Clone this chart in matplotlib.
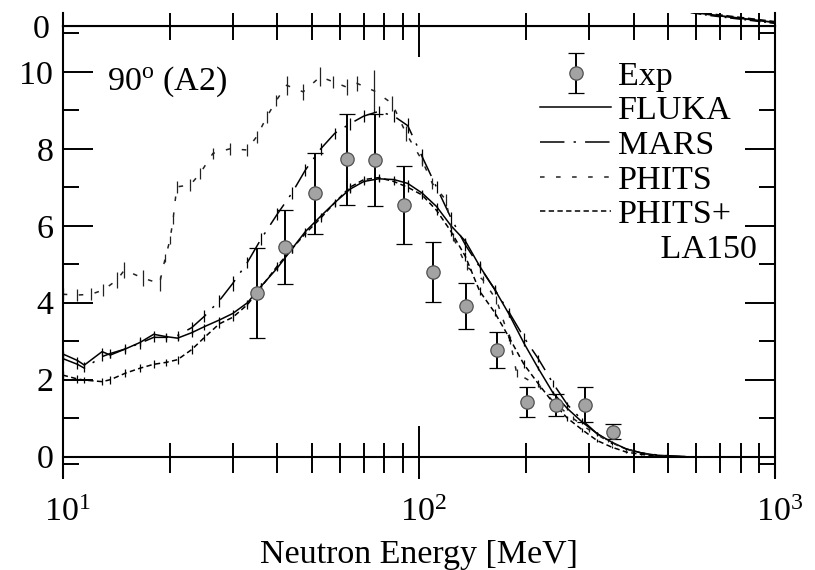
import matplotlib
matplotlib.use("Agg")
import matplotlib.pyplot as plt
import matplotlib.transforms as mtransforms
from matplotlib.lines import Line2D
from matplotlib.legend_handler import HandlerErrorbar

plt.rcParams['font.family'] = ['Liberation Serif', 'DejaVu Serif']
plt.rcParams['mathtext.fontset'] = 'custom'
plt.rcParams['mathtext.rm'] = 'Liberation Serif'
plt.rcParams['mathtext.it'] = 'Liberation Serif:italic'
plt.rcParams['font.size'] = 24.5

# ---------------- data ----------------
E_exp = [35.1, 42.1, 51.0, 62.7, 75.3, 90.8, 109.7, 135.2, 165.2, 200.9, 242.7, 292.5, 350.4]
y_exp = [4.25, 5.45, 6.84, 7.73, 7.71, 6.54, 4.81, 3.91, 2.77, 1.42, 1.35, 1.35, 0.65]
err_exp = [1.17, 0.97, 1.06, 1.18, 1.20, 1.02, 0.78, 0.59, 0.46, 0.38, 0.28, 0.45, 0.20]

E_sim = [10, 11, 11.5, 12.9, 13.6, 15, 16.5, 18, 19.5, 21, 23, 25, 27.5, 30, 33,
         36, 40, 44, 48, 53, 58, 64, 70, 77, 85, 93, 102, 112, 123, 135,
         148, 163, 179, 197, 216, 238, 261, 287, 316, 347, 382, 420, 462, 508, 560]
fluka = [2.67, 2.50, 2.38, 2.73, 2.64, 2.80, 2.97, 3.18, 3.12, 3.08, 3.22, 3.38, 3.55, 3.72, 4.00,
         4.42, 4.90, 5.40, 5.85, 6.25, 6.60, 6.95, 7.15, 7.22, 7.20, 7.10, 6.85, 6.50, 6.00, 5.60,
         4.95, 4.35, 3.70, 2.95, 2.30, 1.65, 1.25, 0.90, 0.60, 0.38, 0.20, 0.10, 0.04, 0.02, 0.0]
fluka_err = [0.08, 0.08, 0.08, 0.10, 0.08, 0.08, 0.10, 0.08, 0.08, 0.08, 0.10, 0.08, 0.08, 0.08, 0.08,
             0.08, 0.08, 0.10, 0.08, 0.08, 0.08, 0.10, 0.08, 0.08, 0.10, 0.08, 0.08, 0.08, 0.08, 0.08,
             0.08, 0.08, 0.08, 0.08, 0.06, 0.06, 0.05, 0.05, 0.04, 0.03, 0.02, 0.02, 0.01, 0.01, 0.0]
mars = [2.55, 2.40, 2.30, 2.60, 2.68, 2.80, 2.95, 3.10, 3.10, 3.15, 3.35, 3.65, 4.05, 4.50, 5.05,
        5.65, 6.30, 6.85, 7.45, 8.00, 8.40, 8.65, 8.85, 8.97, 8.85, 8.60, 7.80, 7.00, 6.20, 5.50,
        4.93, 4.35, 3.75, 3.10, 2.55, 1.90, 1.35, 0.95, 0.60, 0.35, 0.20, 0.10, 0.05, 0.02, 0.0]
mars_err = [0.12, 0.12, 0.10, 0.12, 0.12, 0.12, 0.15, 0.12, 0.12, 0.12, 0.15, 0.15, 0.15, 0.20, 0.15,
            0.15, 0.15, 0.15, 0.15, 0.15, 0.15, 0.15, 0.15, 0.15, 0.15, 0.20, 0.20, 0.15, 0.15, 0.15,
            0.15, 0.12, 0.12, 0.12, 0.10, 0.10, 0.08, 0.06, 0.05, 0.04, 0.03, 0.02, 0.01, 0.01, 0.0]
phla = [2.12, 2.02, 1.99, 1.95, 2.00, 2.17, 2.30, 2.40, 2.45, 2.52, 2.78, 3.10, 3.45, 3.62, 3.95,
        4.40, 4.95, 5.40, 5.80, 6.20, 6.60, 7.00, 7.20, 7.25, 7.15, 7.00, 6.80, 6.40, 5.85, 5.20,
        4.30, 3.75, 3.10, 2.40, 1.90, 1.40, 1.00, 0.70, 0.42, 0.25, 0.12, 0.06, 0.02, 0.0, 0.0]
phla_err = [0.10, 0.10, 0.08, 0.10, 0.10, 0.10, 0.10, 0.10, 0.10, 0.10, 0.12, 0.10, 0.10, 0.10, 0.10,
            0.12, 0.10, 0.10, 0.10, 0.10, 0.10, 0.12, 0.10, 0.10, 0.10, 0.12, 0.10, 0.12, 0.12, 0.12,
            0.10, 0.10, 0.10, 0.10, 0.08, 0.08, 0.06, 0.05, 0.04, 0.03, 0.02, 0.02, 0.01, 0.0, 0.0]
E_ph = [10, 11, 12, 13, 14.2, 14.9, 16.8, 18.7, 19.4, 20.0, 20.4, 20.9, 22.8, 24.3, 26.4,
        29.5, 32.8, 35, 37.4, 39.8, 42.5, 47.3, 52.8, 57.5, 62.7, 67, 75, 84, 92, 102,
        109, 119, 124.5, 136, 151, 165, 180, 188, 218, 240, 270, 300, 340, 380, 430, 500]
phits = [4.22, 4.20, 4.22, 4.33, 4.59, 4.85, 4.64, 4.50, 5.16, 5.63, 6.15, 7.01, 7.06, 7.36, 7.88,
         8.00, 7.97, 8.31, 8.83, 9.26, 9.65, 9.48, 9.87, 9.74, 9.60, 9.70, 9.50, 9.18, 8.40, 7.70,
         7.10, 6.67, 5.71, 4.94, 4.60, 4.07, 3.03, 2.17, 1.82, 1.40, 1.00, 0.70, 0.40, 0.20, 0.07, 0.0]
phits_err = [0.15, 0.15, 0.15, 0.15, 0.20, 0.20, 0.20, 0.20, 0.10, 0.10, 0.10, 0.15, 0.15, 0.15, 0.15,
             0.15, 0.15, 0.15, 0.15, 0.15, 0.25, 0.20, 0.25, 0.15, 0.20, 0.20, 0.55, 0.20, 0.20, 0.15,
             0.15, 0.15, 0.10, 0.10, 0.10, 0.10, 0.10, 0.10, 0.05, 0.05, 0.05, 0.05, 0.03, 0.02, 0.0, 0.0]

# curves of the panel above (only its lowest part is visible)
E_up = [450, 550, 650, 750, 850, 1000]
up_a = [0.58, 0.40, 0.30, 0.23, 0.17, 0.09]
up_b = [0.61, 0.43, 0.32, 0.25, 0.19, 0.11]
up_c = [0.55, 0.38, 0.28, 0.21, 0.15, 0.07]

legend_labels = ['Exp', 'FLUKA', 'MARS', 'PHITS', 'PHITS+', '     LA150']
xtick_vals = [10, 100, 1000]
xtick_labels = [r'$10^{1}$', r'$10^{2}$', r'$10^{3}$']
xminor_vals = [20, 30, 40, 50, 60, 70, 80, 90, 200, 300, 400, 500, 600, 700, 800, 900]
ytick_vals = [0, 2, 4, 6, 8, 10]
yminor_vals = [-0.2, 1, 3, 5, 7, 9, 11]

# ---------------- figure ----------------
W, H = 815, 570
fig = plt.figure(figsize=(W / 100, H / 100), dpi=100)
L, R = 62.7, 775.3
y_top, y_bot = 26.0, 476.7
ax = fig.add_axes([L / W, (H - y_bot) / H, (R - L) / W, (y_bot - y_top) / H])
axu = fig.add_axes([L / W, (H - y_top) / H, (R - L) / W, 13.3 / H])

ymin, ymax = -0.52, 11.19
ax.set_xscale('log')
ax.set_xlim(10, 1000)
ax.set_ylim(ymin, ymax)

lw = 1.1
elw = 0.9

c_fl = ax.errorbar(E_sim, fluka, yerr=fluka_err, color='k', lw=lw, elinewidth=elw, capsize=0)
c_ma = ax.errorbar(E_sim, mars, yerr=mars_err, color='k', lw=lw, elinewidth=elw, capsize=0)
c_ma.lines[0].set_dashes([16, 6, 1.5, 6])
c_ph = ax.errorbar(E_ph, phits, yerr=phits_err, color='#222222', lw=lw, elinewidth=elw, capsize=0)
c_ph.lines[0].set_dashes([3.0, 7.5])
c_pl = ax.errorbar(E_sim, phla, yerr=phla_err, color='k', lw=lw, elinewidth=elw, capsize=0)
c_pl.lines[0].set_dashes([3.5, 2.2])

c_ex = ax.errorbar(E_exp, y_exp, yerr=err_exp, fmt='o', ms=9.6, mfc='#a3a3a3', mec='#505050',
                   mew=0.9, ecolor='k', elinewidth=1.4, capsize=6, capthick=1.4, zorder=6)

ax.text(13.29, 9.73, r'90$^{\rm o}$ (A2)', ha='left', va='center')

# spines / ticks
for s in ax.spines.values():
    s.set_linewidth(1.5)
ax.spines['bottom'].set_position(('data', 0))
ax.set_xticks(xtick_vals)
ax.set_xticklabels(xtick_labels)
ax.set_xticks(xminor_vals, minor=True)
ax.set_xticklabels([], minor=True)
ax.set_yticks(ytick_vals)
ax.set_yticks(yminor_vals, minor=True)
ax.tick_params(axis='x', which='both', direction='in', top=True, bottom=True, width=1.4)
ax.tick_params(axis='x', which='major', length=22, pad=29)
ax.tick_params(axis='x', which='minor', length=10)
ax.tick_params(axis='y', which='both', direction='in', left=True, right=True, width=1.4)
ax.tick_params(axis='y', which='major', length=21.6, pad=6.8)
ax.tick_params(axis='y', which='minor', length=11.5)

# downward ticks under the zero line
loc0 = (0 - ymin) / (ymax - ymin)
sec = ax.secondary_xaxis(loc0)
sec.set_xticks(xtick_vals)
sec.set_xticks(xminor_vals, minor=True)
sec.tick_params(axis='x', which='both', direction='out', labelbottom=False, width=1.4)
sec.tick_params(axis='x', which='major', length=15.5)
sec.tick_params(axis='x', which='minor', length=11.7)
for s in sec.spines.values():
    s.set_visible(False)

ax.set_xlabel('Neutron Energy [MeV]')
ax.xaxis.set_label_coords(0.5, -0.14)

# legend
hdl_dummy = Line2D([], [], color='none')
leg = ax.legend([c_ex, c_fl.lines[0], c_ma.lines[0], c_ph.lines[0], c_pl.lines[0], hdl_dummy],
                legend_labels, loc='upper left', bbox_to_anchor=(540 / W, (H - 61) / H),
                bbox_transform=fig.transFigure, frameon=False, borderpad=0, borderaxespad=0,
                handlelength=2.1, handletextpad=0.2, labelspacing=0.11, numpoints=1,
                handler_map={type(c_ex): HandlerErrorbar(yerr_size=0.58)})

# panel above
axu.set_xscale('log')
axu.set_xlim(10, 1000)
axu.set_ylim(0, 13.3 / 38.5)
axu.plot(E_up, up_a, color='k', lw=1.3)
axu.plot(E_up, up_b, color='k', lw=1.3, dashes=[4, 2])
axu.plot(E_up, up_c, color='k', lw=1.3, dashes=[6, 2, 1, 2])
axu.spines['top'].set_visible(False)
for s in axu.spines.values():
    s.set_linewidth(1.5)
axu.set_xticks(xtick_vals)
axu.set_xticks(xminor_vals, minor=True)
axu.tick_params(axis='x', which='both', direction='in', length=9.6, width=1.4,
                labelbottom=False, bottom=True)
axu.set_yticks([0])
axu.tick_params(axis='y', which='both', length=0, pad=9.4, left=True, right=False)
axu.yaxis.set_minor_locator(matplotlib.ticker.NullLocator())

# shift x tick labels so that the base "10" is centred on the tick
off = mtransforms.ScaledTranslation(4.5 / 100, 0, fig.dpi_scale_trans)
for lab in ax.get_xticklabels():
    lab.set_transform(lab.get_transform() + off)

fig.savefig('out.png', dpi=100)
